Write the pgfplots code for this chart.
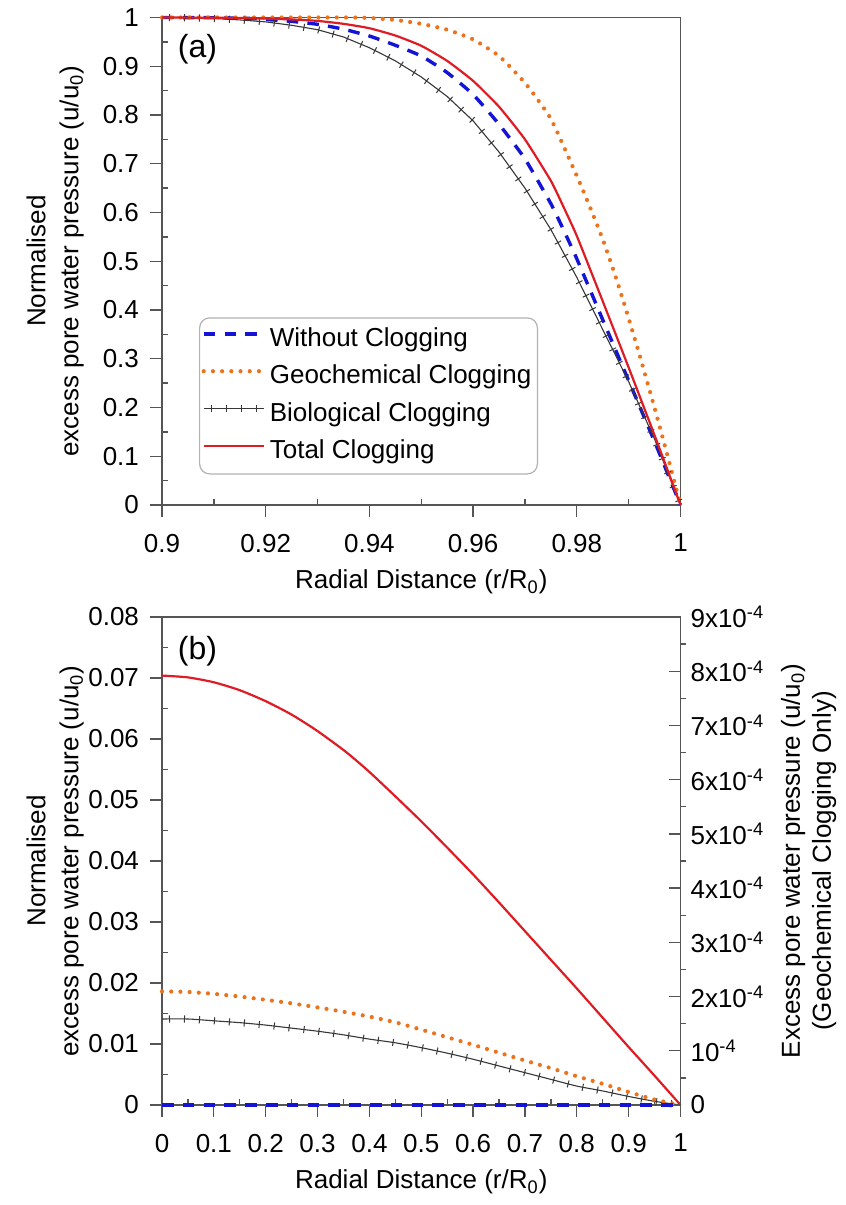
\documentclass[border=0pt]{standalone}
\usepackage{fontspec}
\setmainfont{Liberation Sans}
\usepackage{pgfplots}
\pgfplotsset{compat=1.18}
\usetikzlibrary{decorations.markings}

\definecolor{cBlue}{RGB}{20,20,215}
\definecolor{cOrange}{RGB}{235,115,30}
\definecolor{cRed}{RGB}{222,28,36}
\definecolor{axisgray}{RGB}{85,85,85}
\definecolor{biogray}{RGB}{55,55,55}

\newcommand{\fs}{\fontsize{13}{16}\selectfont}

\tikzset{
  bluesty/.style={draw=cBlue, line width=1.7pt, dash pattern=on 5.8pt off 4.6pt},
  orangesty/.style={draw=cOrange, line width=2.1pt, line cap=round, dash pattern=on 0pt off 4.6pt},
  redsty/.style={draw=cRed, line width=1.1pt},
  biosty/.style={draw=biogray, line width=0.55pt,
    postaction={decorate, decoration={markings,
      mark=between positions 3.75pt and 1 step 7.5pt with {\draw[biogray, line width=0.5pt] (0pt,-1.8pt) -- (0pt,1.8pt);}}}},
}

\pgfplotsset{
  common/.style={scale only axis, width=259.25pt, anchor=south west, clip=false,
    axis line style={draw=axisgray, line width=0.65pt},
    tick style={draw=axisgray, line width=0.65pt},
    tick label style={font=\fs, text=black},
    label style={font=\fs},
    scaled ticks=false},
  majorax/.style={common, tick align=outside, major tick length=6pt,
    xtick pos=bottom, ytick pos=left,
    xticklabel style={yshift=-5pt}, yticklabel style={xshift=-2pt}},
  minorax/.style={common, tick align=inside, major tick length=3pt,
    xtick pos=bottom, ytick pos=left, axis line style={draw=none},
    xticklabels={}, yticklabels={}},
}

\begin{document}
\begin{tikzpicture}
\path[use as bounding box] (0,0) rectangle (423pt,602.5pt);

% ---------------- panel (a) ----------------
\begin{axis}[majorax, at={(81pt,350pt)}, height=243.75pt,
  xmin=0.9, xmax=1, ymin=0, ymax=1,
  xtick={0.9,0.92,0.94,0.96,0.98,1},
  xticklabels={0.9,0.92,0.94,0.96,0.98,1},
  ytick={0,0.1,0.2,0.3,0.4,0.5,0.6,0.7,0.8,0.9,1},
  yticklabels={0,0.1,0.2,0.3,0.4,0.5,0.6,0.7,0.8,0.9,1},
  xlabel={Radial Distance (r/R\textsubscript{0})},
  xlabel style={at={(axis description cs:0.5,0)}, yshift=-38.5pt, anchor=center},
  ylabel={Normalised\\excess pore water pressure (u/u\textsubscript{0})},
  ylabel style={align=center, font=\fontsize{13}{16.5}\selectfont, at={(axis description cs:-0.206,0.5)}, anchor=center},
  legend cell align=left,
  legend style={at={(rel axis cs:0.0714,0.385)}, anchor=north west,
    draw=black!30, rounded corners=5pt, line width=0.6pt,
    inner xsep=1pt, inner ysep=1.6pt, font=\fs,
    nodes={inner xsep=2pt, inner ysep=3.1pt, text height=9.5pt, text depth=3pt},
    /tikz/every even column/.append style={column sep=4pt}},
  legend image code/.code={\draw[#1] (0pt,3pt) -- (30pt,3pt);},
]
\addplot[bluesty, smooth, tension=0.3] coordinates {(0.900,1.000)(0.910,0.9995)(0.917,0.998)(0.925,0.992)(0.930,0.986)(0.935,0.976)(0.940,0.962)(0.945,0.943)(0.950,0.921)(0.955,0.887)(0.960,0.842)(0.965,0.781)(0.970,0.710)(0.975,0.618)(0.9775,0.563)(0.980,0.505)(0.985,0.380)(0.990,0.255)(0.995,0.130)(1.000,0.000)};
\addlegendentry{Without Clogging}
\addplot[orangesty, smooth, tension=0.3] coordinates {(0.900,1.000)(0.935,1.000)(0.940,0.999)(0.945,0.995)(0.950,0.987)(0.955,0.975)(0.960,0.955)(0.965,0.921)(0.970,0.866)(0.975,0.792)(0.980,0.675)(0.9825,0.612)(0.985,0.545)(0.9875,0.468)(0.990,0.383)(0.9925,0.293)(0.995,0.199)(0.9975,0.101)(1.000,0.000)};
\addlegendentry{Geochemical Clogging}
\addplot[biosty] coordinates {(0.900,1.000)(0.905,0.9995)(0.910,0.998)(0.915,0.995)(0.920,0.991)(0.925,0.984)(0.930,0.975)(0.935,0.960)(0.940,0.938)(0.945,0.911)(0.950,0.878)(0.955,0.838)(0.960,0.788)(0.965,0.724)(0.970,0.650)(0.975,0.565)(0.980,0.467)(0.985,0.360)(0.990,0.253)(0.995,0.135)(1.000,0.000)};
\addlegendentry{Biological Clogging}
\addplot[redsty, smooth, tension=0.3] coordinates {(0.900,1.000)(0.915,0.999)(0.925,0.996)(0.930,0.993)(0.935,0.987)(0.940,0.978)(0.945,0.963)(0.950,0.942)(0.955,0.911)(0.960,0.870)(0.965,0.817)(0.970,0.750)(0.975,0.665)(0.9775,0.610)(0.980,0.552)(0.985,0.418)(0.990,0.282)(0.995,0.143)(1.000,0.000)};
\addlegendentry{Total Clogging}
\node[font=\fontsize{16}{19}\selectfont] at (rel axis cs:0.0685,0.935) {(a)};
\end{axis}
\begin{axis}[minorax, at={(81pt,350pt)}, height=243.75pt,
  xmin=0.9, xmax=1, ymin=0, ymax=1,
  xtick={0.91,0.93,0.95,0.97,0.99},
  ytick={0.05,0.15,0.25,0.35,0.45,0.55,0.65,0.75,0.85,0.95}]
\end{axis}

% ---------------- panel (b) ----------------
\begin{axis}[majorax, at={(81pt,50pt)}, height=244pt,
  xmin=0, xmax=1, ymin=0, ymax=0.08,
  xtick={0,0.1,0.2,0.3,0.4,0.5,0.6,0.7,0.8,0.9,1},
  xticklabels={0,0.1,0.2,0.3,0.4,0.5,0.6,0.7,0.8,0.9,1},
  ytick={0,0.01,0.02,0.03,0.04,0.05,0.06,0.07,0.08},
  yticklabels={0,0.01,0.02,0.03,0.04,0.05,0.06,0.07,0.08},
  xlabel={Radial Distance (r/R\textsubscript{0})},
  xlabel style={at={(axis description cs:0.5,0)}, yshift=-38.5pt, anchor=center},
  ylabel={Normalised\\excess pore water pressure (u/u\textsubscript{0})},
  ylabel style={align=center, font=\fontsize{13}{16.5}\selectfont, at={(axis description cs:-0.206,0.5)}, anchor=center},
]
\addplot[biosty, smooth, tension=0.4] coordinates {(0,0.0141)(0.05,0.0141)(0.1,0.0138)(0.15,0.0135)(0.2,0.0131)(0.25,0.0126)(0.3,0.0121)(0.35,0.0115)(0.4,0.0108)(0.45,0.0102)(0.5,0.0094)(0.55,0.0085)(0.6,0.0075)(0.65,0.0064)(0.7,0.0053)(0.75,0.0042)(0.8,0.0031)(0.85,0.0023)(0.9,0.0014)(0.95,0.0006)(1,0)};
\addplot[redsty, smooth, tension=0.4] coordinates {(0,0.0704)(0.05,0.0701)(0.1,0.0693)(0.15,0.0680)(0.2,0.0662)(0.25,0.0640)(0.3,0.0613)(0.356,0.0578)(0.4,0.0546)(0.45,0.0506)(0.5,0.0465)(0.55,0.0422)(0.6,0.0378)(0.65,0.0332)(0.7,0.0285)(0.75,0.0238)(0.8,0.0191)(0.85,0.0143)(0.9,0.0095)(0.95,0.0048)(1,0)};
\node[font=\fontsize{16}{19}\selectfont] at (rel axis cs:0.0685,0.930) {(b)};
\end{axis}
\begin{axis}[minorax, at={(81pt,50pt)}, height=244pt,
  xmin=0, xmax=1, ymin=0, ymax=0.08,
  xtick={0.05,0.15,0.25,0.35,0.45,0.55,0.65,0.75,0.85,0.95},
  ytick={0.005,0.015,0.025,0.035,0.045,0.055,0.065,0.075}]
\end{axis}
% right axis (geochemical only)
\begin{axis}[common, at={(81pt,50pt)}, height=244pt,
  xmin=0, xmax=1, ymin=0, ymax=9e-4,
  axis y line*=right, axis x line=none,
  tick align=inside, major tick length=6pt,
  ytick={0,1e-4,2e-4,3e-4,4e-4,5e-4,6e-4,7e-4,8e-4,9e-4},
  yticklabels={0,10\textsuperscript{-4},2x10\textsuperscript{-4},3x10\textsuperscript{-4},4x10\textsuperscript{-4},5x10\textsuperscript{-4},6x10\textsuperscript{-4},7x10\textsuperscript{-4},8x10\textsuperscript{-4},9x10\textsuperscript{-4}},
  yticklabel style={xshift=1.5pt},
  ylabel={Excess pore water pressure (u/u\textsubscript{0})\\(Geochemical Clogging Only)},
  ylabel style={align=center, font=\fontsize{13}{15.5}\selectfont, at={(axis description cs:1.247,0.5)}, anchor=center},
]
\addplot[orangesty, smooth, tension=0.4] coordinates {(0,2.095e-4)(0.05,2.085e-4)(0.1,2.05e-4)(0.15,2.0e-4)(0.2,1.94e-4)(0.25,1.875e-4)(0.3,1.80e-4)(0.35,1.72e-4)(0.4,1.63e-4)(0.45,1.525e-4)(0.5,1.39e-4)(0.55,1.25e-4)(0.6,1.11e-4)(0.65,0.965e-4)(0.7,0.82e-4)(0.75,0.68e-4)(0.8,0.53e-4)(0.85,0.39e-4)(0.9,0.24e-4)(0.95,0.10e-4)(1,0)};
\end{axis}
\begin{axis}[common, at={(81pt,50pt)}, height=244pt,
  xmin=0, xmax=1, ymin=0, ymax=9e-4,
  axis y line*=right, axis x line=none, axis line style={draw=none},
  tick align=outside, major tick length=2.5pt,
  ytick={0.5e-4,1.5e-4,2.5e-4,3.5e-4,4.5e-4,5.5e-4,6.5e-4,7.5e-4,8.5e-4},
  yticklabels={}]
% without clogging: zero everywhere, drawn last so it lies over the axis line
\addplot[bluesty] coordinates {(0,0)(0.25,0)(0.5,0)(0.75,0)(1,0)};
\end{axis}
\end{tikzpicture}
\end{document}
